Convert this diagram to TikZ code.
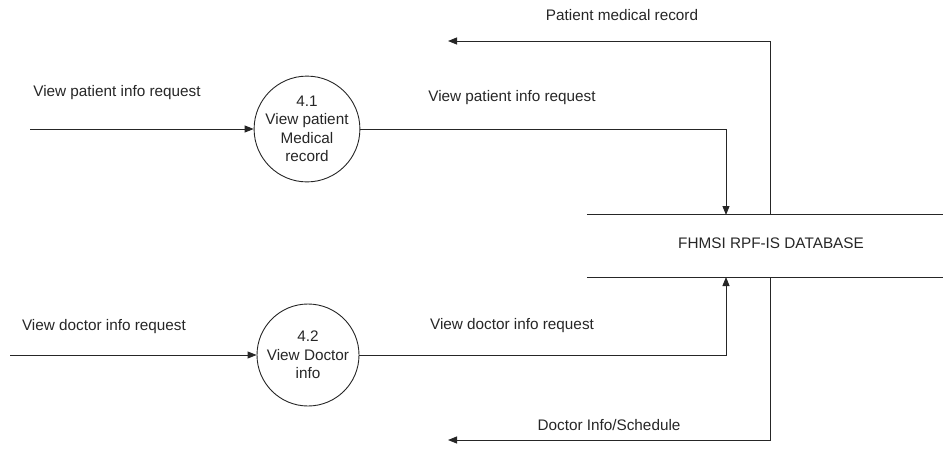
\documentclass[tikz,border=0pt]{standalone}
\usepackage{fontspec}
\setmainfont{Liberation Sans}
\usetikzlibrary{arrows.meta}
\begin{document}
\begin{tikzpicture}[x=1pt,y=-1pt,
  every node/.style={font=\fontsize{15.3}{18.5}\selectfont, text=black!85},
  flow/.style={draw=black!85, line width=0.9pt, -{Triangle[length=9pt,width=7pt]}},
  process/.style={circle, draw=black!85, line width=0.9pt, minimum size=102pt, inner sep=0pt, align=center},
  store/.style={minimum width=356pt, minimum height=62pt, inner sep=0pt},
  lbl/.style={inner sep=0pt}]
\useasboundingbox (0,0) rectangle (943,448);

% processes
\node[process] (p1) at (307,129) {4.1\\View patient\\Medical\\record};
\node[process] (p2) at (308,355) {4.2\\View Doctor\\info};

% data store (open on the right)
\node[store] (db) at (765,246) {};
\node[lbl] (dbtext) at (771,243) {FHMSI RPF-IS DATABASE};
\draw[draw=black!85, line width=0.9pt] (db.north west) -- (db.north east);
\draw[draw=black!85, line width=0.9pt] (db.south west) -- (db.south east);

% free ends of the flows
\coordinate (in1) at (30,129);
\coordinate (in2) at (10,355);
\coordinate (out1) at (448,41);
\coordinate (out2) at (448,440);
\coordinate (t1) at (726,215);
\coordinate (t2) at (726,277);
\coordinate (s1) at (770,215);
\coordinate (s2) at (770,277);

% flows
\draw[flow] (in1) -- (p1.west);
\draw[flow] (in2) -- (p2.west);
\draw[flow] (p1.east) -| (t1);
\draw[flow] (p2.east) -| (t2);
\draw[flow] (s1) |- (out1);
\draw[flow] (s2) |- (out2);

% flow labels
\node[lbl] (l1) at (117,93) {View patient info request};
\node[lbl] (l2) at (512,98) {View patient info request};
\node[lbl] (l3) at (104,327) {View doctor info request};
\node[lbl] (l4) at (512,326) {View doctor info request};
\node[lbl] (l5) at (622,15) {Patient medical record};
\node[lbl] (l6) at (609,425) {Doctor Info/Schedule};
\end{tikzpicture}
\end{document}
